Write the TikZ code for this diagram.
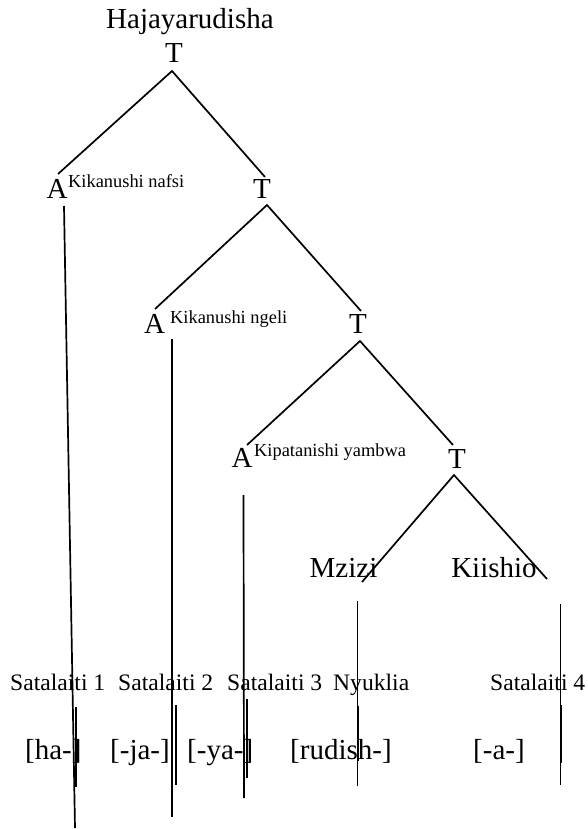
\documentclass[tikz,border=0pt]{standalone}
\usepackage{fontspec}
\setmainfont{Liberation Serif}
\begin{document}
\begin{tikzpicture}[x=1pt,y=-1pt,
  big/.style={inner sep=0pt,font=\fontsize{29}{34}\selectfont},
  mid/.style={inner sep=0pt,font=\fontsize{23.6}{28}\selectfont,anchor=base west},
  small/.style={inner sep=0pt,font=\fontsize{18.4}{22}\selectfont,anchor=base west},
  ln/.style={line width=1.7pt}]
\useasboundingbox (0,0) rectangle (587,829);
% labels
\node[big,anchor=base west] (title) at (106,29) {Hajayarudisha};
\node[big,anchor=base] (T1) at (174,63) {T};
\node[big,anchor=base] (A1) at (57,198) {A};
\node[small] (s1) at (68,187) {Kikanushi nafsi};
\node[big,anchor=base] (T2) at (262,198) {T};
\node[big,anchor=base] (A2) at (154.5,333) {A};
\node[small] (s2) at (170,323) {Kikanushi ngeli};
\node[big,anchor=base] (T3) at (358,333) {T};
\node[big,anchor=base] (A3) at (242,467) {A};
\node[small] (s3) at (254,456) {Kipatanishi yambwa};
\node[big,anchor=base] (T4) at (457,468) {T};
\node[big,anchor=base] (mz) at (343.5,577) {Mzizi};
\node[big,anchor=base] (ki) at (494,577) {Kiishio};
\node[mid] (sat1) at (10,690) {Satalaiti 1};
\node[mid] (sat2) at (118,690) {Satalaiti 2};
\node[mid] (sat3) at (227,690) {Satalaiti 3};
\node[mid] (nyu) at (333,690) {Nyuklia};
\node[mid] (sat4) at (490,690) {Satalaiti 4};
\node[big,anchor=base west] (m1) at (25,759) {[ha-]};
\node[big,anchor=base west] (m2) at (110,759) {[-ja-]};
\node[big,anchor=base west] (m3) at (187,759) {[-ya-]};
\node[big,anchor=base west] (m4) at (290,759) {[rudish-]};
\node[big,anchor=base west] (m5) at (473,759) {[-a-]};
% coordinates for line ends
\coordinate (t1a) at (172,71);
\coordinate (t1l) at (58,174);
\coordinate (t1r) at (265,177);
\coordinate (t2a) at (267,205);
\coordinate (t2l) at (155,309);
\coordinate (t2r) at (361,311);
\coordinate (t3a) at (360,341);
\coordinate (t3l) at (247,445);
\coordinate (t3r) at (453,445);
\coordinate (t4a) at (454,475);
\coordinate (t4l) at (362,582);
\coordinate (t4r) at (547,579);
\coordinate (v1a) at (64,206);
\coordinate (v1b) at (75,828);
\coordinate (w1a) at (76,707);
\coordinate (w1b) at (76,787);
\coordinate (v2a) at (172,339);
\coordinate (v2b) at (172,817);
\coordinate (w2a) at (176,705);
\coordinate (w2b) at (176,785);
\coordinate (v3a) at (243.5,495);
\coordinate (v3b) at (244,798);
\coordinate (w3a) at (247,699);
\coordinate (w3b) at (247,778);
\coordinate (v4a) at (357.5,601);
\coordinate (v4b) at (357.5,786);
\coordinate (w4a) at (358.5,706);
\coordinate (w4b) at (358.5,761);
\coordinate (v5a) at (560.5,604);
\coordinate (v5b) at (560.5,785);
\coordinate (w5a) at (561,705);
\coordinate (w5b) at (561,763);
% tree edges
\draw[ln] (t1l) -- (t1a) -- (t1r);
\draw[ln] (t2l) -- (t2a) -- (t2r);
\draw[ln] (t3l) -- (t3a) -- (t3r);
\draw[ln] (t4l) -- (t4a) -- (t4r);
% vertical lines
\draw[ln] (v1a) -- (v1b);
\draw[ln] (w1a) -- (w1b);
\draw[ln] (v2a) -- (v2b);
\draw[ln] (w2a) -- (w2b);
\draw[ln] (v3a) -- (v3b);
\draw[ln] (w3a) -- (w3b);
\draw[ln] (v4a) -- (v4b);
\draw[ln] (w4a) -- (w4b);
\draw[ln] (v5a) -- (v5b);
\draw[ln] (w5a) -- (w5b);
\end{tikzpicture}
\end{document}
